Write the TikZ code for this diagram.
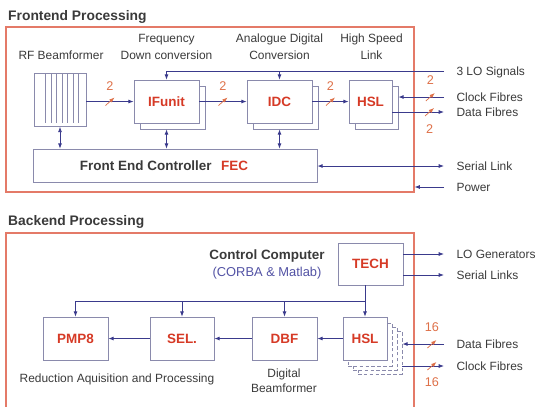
\documentclass[tikz,border=0pt]{standalone}
\usepackage{fontspec}
\setmainfont{Liberation Sans}
\usepackage{tikz}
\usetikzlibrary{arrows.meta,positioning,shadows}

\definecolor{framec}{RGB}{228,122,104}
\definecolor{boxc}{RGB}{138,138,172}
\definecolor{arrc}{RGB}{58,58,140}
\definecolor{redt}{RGB}{214,58,38}
\definecolor{numc}{RGB}{222,112,72}
\definecolor{greyt}{RGB}{58,58,58}
\definecolor{corbac}{RGB}{82,82,164}

\tikzset{
  busmark/.pic={\draw[numc, line width=0.6pt] (-4.5,4) -- (4.5,-4);}
}

\begin{document}
\begin{tikzpicture}[
  x=0.03cm, y=-0.03cm,
  every node/.style={font=\fontsize{10.2}{14.5}\selectfont, text=greyt},
  frame/.style={draw=framec, line width=0.9pt},
  title/.style={anchor=west, inner sep=0pt, font=\fontsize{11.8}{14}\selectfont\bfseries},
  unit/.style={draw=boxc, fill=white, line width=0.6pt, text=redt,
    font=\fontsize{11.5}{14}\selectfont\bfseries},
  shadowed/.style={general shadow={shadow xshift=0.18cm, shadow yshift=-0.18cm,
    draw=boxc, fill=white, line width=0.6pt}},
  stacked/.style={
    general shadow={shadow xshift=0.45cm, shadow yshift=-0.42cm, draw=boxc, fill=white, line width=0.6pt, dash pattern=on 3pt off 2pt},
    general shadow={shadow xshift=0.3cm, shadow yshift=-0.3cm, draw=boxc, fill=white, line width=0.6pt, dash pattern=on 3pt off 2pt},
    general shadow={shadow xshift=0.15cm, shadow yshift=-0.18cm, draw=boxc, fill=white, line width=0.6pt, dash pattern=on 3pt off 2pt}},
  gridline/.style={boxc, line width=0.6pt},
  sidelbl/.style={anchor=west, inner xsep=10.5pt, inner ysep=0pt, text height=7.4pt, text depth=0pt},
  num/.style={text=numc, inner sep=0pt, text height=7.6pt, text depth=0pt, font=\fontsize{10.8}{12}\selectfont},
  arr/.style={arrc, line width=0.7pt, -{Latex[length=4.5pt,width=3.4pt]}},
  darr/.style={arrc, line width=0.7pt, {Latex[length=4.5pt,width=3.4pt]}-{Latex[length=4.5pt,width=3.4pt]}}
]
  \useasboundingbox (0,0) rectangle (536,406);

  % Frontend
  \node[frame, minimum width=12.24cm, minimum height=4.95cm] (front) at (210,109.5) {};
  \node[title] (fronttitle) at (8,17) {Frontend Processing};

  \node[unit, minimum width=1.56cm, minimum height=1.59cm] (beam) at (60,100) {};
  \foreach \k in {0,...,6}
    \draw[gridline] (beam.north west) ++({12+5.5*\k},0) -- ++(0,50);
  \node[unit, shadowed, minimum width=1.95cm, minimum height=1.29cm] (ifu) at (166.5,101.5) {IFunit};
  \node[unit, shadowed, minimum width=1.95cm, minimum height=1.29cm] (idc) at (279.5,101.5) {IDC};
  \node[unit, shadowed, minimum width=1.29cm, minimum height=1.29cm] (hslf) at (370.5,101.5) {HSL};
  \node[unit, minimum width=8.52cm, minimum height=0.99cm] (fec) at (175,165.5) {};
  \node[font=\fontsize{11.5}{14}\selectfont\bfseries] (fectxt) at (164,166) {Front End Controller\hspace{8pt}{\color{redt}FEC}};

  \node (beamlbl) at (61,55) {RF Beamformer};
  \node[align=center] (ifulbl) at (166.5,46.5) {Frequency\\Down conversion};
  \node[align=center] (idclbl) at (279.5,46.5) {Analogue Digital\\Conversion};
  \node[align=center] (hsllbl) at (371.5,46.5) {High Speed\\Link};

  \node[sidelbl] (lo) at (444,71) {3 LO Signals};
  \node[sidelbl] (clkf) at (444,97) {Clock Fibres};
  \node[sidelbl] (datf) at (444,112) {Data Fibres};
  \node[sidelbl] (serl) at (444,166) {Serial Link};
  \node[sidelbl] (pwr) at (444,187) {Power};

  \draw[arr] (beam.east |- ifu.west) -- node[num, above=0.31cm] (n1) {2} pic{busmark} (ifu.west);
  \draw[arr] (ifu) -- node[num, above=0.31cm] (n2) {2} pic{busmark} (idc);
  \draw[arr] (idc) -- node[num, above=0.31cm] (n3) {2} pic{busmark} (hslf);
  \draw[arr] (lo.west) -| (ifu.north);
  \draw[arr] (lo.west -| idc.north) -- (idc.north);
  \coordinate (hsledge) at ([xshift=0.18cm]hslf.east);
  \draw[arr] (clkf.west) -- node[num, above=0.35cm, pos=0.3] (n4) {2} pic[pos=0.3]{busmark} (clkf.west -| hsledge);
  \draw[arr] (datf.west -| hslf.east) -- node[num, below=0.38cm, pos=0.72] (n5) {2} pic[pos=0.72]{busmark} (datf.west);
  \draw[darr] (beam.south) -- (beam.south |- fec.north);
  \draw[darr] ([yshift=-0.18cm]ifu.south) -- (ifu.south |- fec.north);
  \draw[darr] ([yshift=-0.18cm]idc.south) -- (idc.south |- fec.north);
  \draw[darr] (fec.east |- serl.west) -- (serl.west);
  \draw[arr] (pwr.west) -- (pwr.west -| front.east);

  % Backend
  \node[frame, minimum width=12.24cm, minimum height=5.61cm] (back) at (210,326.5) {};
  \node[title] (backtitle) at (8,222) {Backend Processing};

  \node[align=center] (cc) at (267,264) {{\fontsize{11.5}{14.5}\selectfont\bfseries Control Computer}\\{\fontsize{11}{14.5}\selectfont\color{corbac}(CORBA \& Matlab)}};
  \node[unit, minimum width=1.95cm, minimum height=1.26cm] (tech) at (370.5,264) {TECH};
  \node[unit, minimum width=1.95cm, minimum height=1.29cm] (pmp) at (75.5,338.5) {PMP8};
  \node[unit, minimum width=1.92cm, minimum height=1.29cm] (sel) at (182,338.5) {SEL.};
  \node[unit, minimum width=1.95cm, minimum height=1.29cm] (dbf) at (284.5,338.5) {DBF};
  \node[unit, stacked, minimum width=1.32cm, minimum height=1.29cm] (hslb) at (365,338.5) {HSL};

  \node[anchor=base] (redlbl) at (117,382.5) {Reduction Aquisition and Processing};
  \node[align=center, font=\fontsize{10.2}{12.8}\selectfont] (dbflbl) at (284,380.5) {Digital\\Beamformer};

  \node[sidelbl] (lo2) at (444,254) {LO Generators};
  \node[sidelbl] (serl2) at (444,275) {Serial Links};
  \node[sidelbl] (datb) at (444,344) {Data Fibres};
  \node[sidelbl] (clkb) at (444,366) {Clock Fibres};

  \draw[arr] (lo2.west -| tech.east) -- (lo2.west);
  \draw[arr] (serl2.west -| tech.east) -- (serl2.west);
  \coordinate (bus) at (365,301);
  \draw[arr] (tech.south -| hslb.north) -- (hslb.north);
  \draw[arr] (bus) -| (pmp.north);
  \draw[arr] (bus -| sel.north) -- (sel.north);
  \draw[arr] (bus -| dbf.north) -- (dbf.north);
  \draw[arr] (hslb) -- (dbf);
  \draw[arr] (dbf) -- (sel);
  \draw[arr] (sel) -- (pmp);
  \coordinate (stk) at ([xshift=0.45cm]hslb.east);
  \draw[arr] (datb.west) -- node[num, above=0.35cm, pos=0.29] (n6) {16} pic[pos=0.29]{busmark} (datb.west -| stk);
  \draw[arr] (clkb.west -| stk) -- node[num, below=0.35cm, pos=0.71] (n7) {16} pic[pos=0.71]{busmark} (clkb.west);
\end{tikzpicture}
\end{document}
